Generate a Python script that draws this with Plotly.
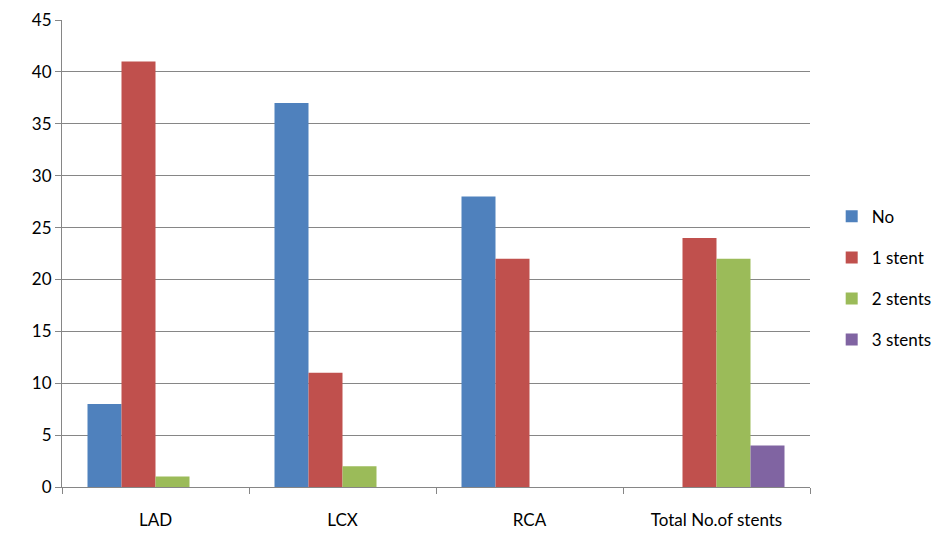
import plotly.graph_objects as go

categories = ["LAD", "LCX", "RCA", "Total No.of stents"]
series_names = ["No", "1 stent", "2 stents", "3 stents"]
no_vals = [8, 37, 28, None]
one_stent = [41, 11, 22, 24]
two_stents = [1, 2, None, 22]
three_stents = [None, None, None, 4]
y_ticks = [0, 5, 10, 15, 20, 25, 30, 35, 40, 45]

colors = ["#4F81BD", "#C0504D", "#9BBB59", "#8064A2"]
FONT = "Lato, 'Open Sans', sans-serif"

fig = go.Figure()
for i, (name, vals) in enumerate(zip(series_names, [no_vals, one_stent, two_stents, three_stents])):
    fig.add_trace(go.Bar(
        x=categories, y=vals, name=name,
        marker=dict(color=colors[i], line=dict(width=0)),
        legendgroup=name,
    ))

fig.update_layout(
    width=942, height=533,
    margin=dict(l=62, r=132, t=20, b=46, autoexpand=False),
    paper_bgcolor="white", plot_bgcolor="white",
    barmode="group", bargap=1.5 / 5.5, bargroupgap=0,
    font=dict(family=FONT, size=17, color="#000000"),
    showlegend=True,
    legend=dict(
        x=1.029, y=0.447, xanchor="left", yanchor="middle",
        font=dict(family=FONT, size=17, color="#000000"),
        traceorder="grouped", tracegroupgap=16,
        itemwidth=30,
    ),
    xaxis=dict(
        type="category", tickson="boundaries",
        ticks="outside", ticklen=6, tickcolor="#868686",
        showline=True, linecolor="#868686", linewidth=1,
        showgrid=False, tickfont=dict(size=17),
        ticklabelstandoff=18,
    ),
    yaxis=dict(
        range=[0, 45], tickvals=y_ticks,
        ticks="outside", ticklen=6, tickcolor="#868686",
        showline=True, linecolor="#868686", linewidth=1,
        showgrid=True, gridcolor="#868686", gridwidth=1,
        zeroline=False, tickfont=dict(size=17),
    ),
)

fig.write_html("out.html")
